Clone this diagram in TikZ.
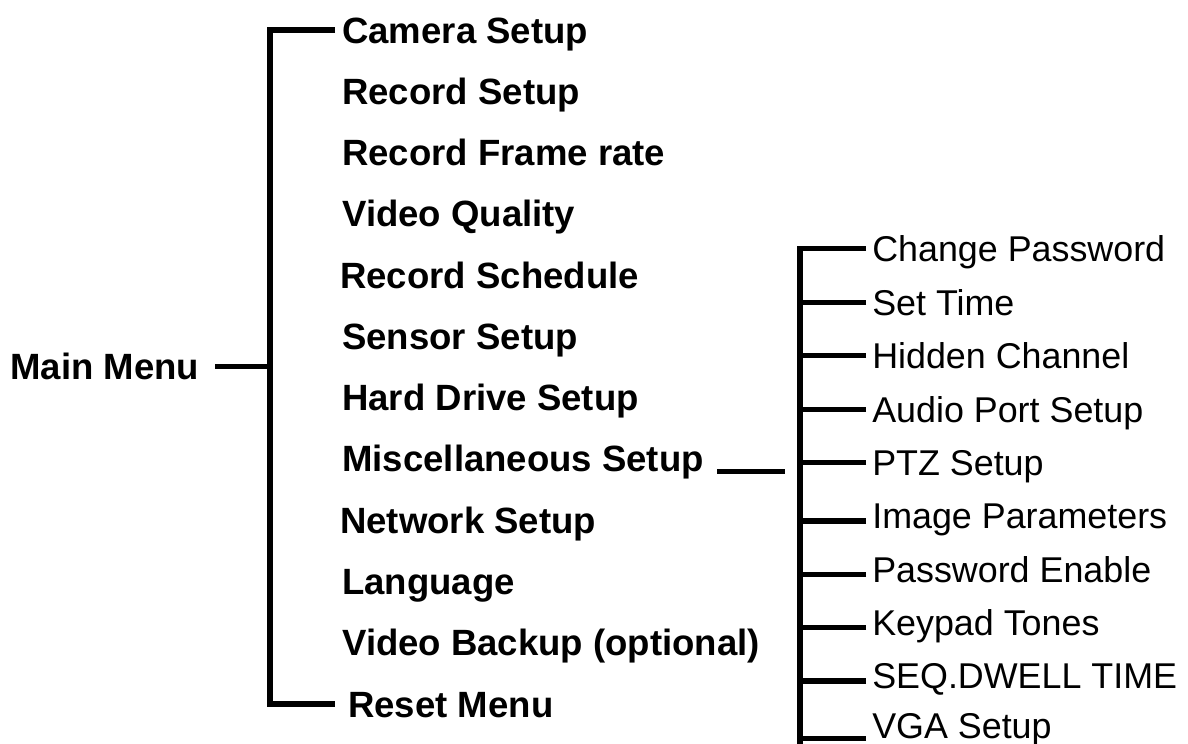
\documentclass[tikz,border=0pt]{standalone}
\usepackage{fontspec}
\setmainfont{Liberation Sans}

\begin{document}
\begin{tikzpicture}[
  mainitem/.style={anchor=west, inner sep=0pt, text height=18.7pt, text depth=0pt,
    font=\bfseries\fontsize{26}{30}\selectfont},
  subitem/.style={anchor=west, inner sep=0pt, text height=18.4pt, text depth=0pt,
    font=\fontsize{25.5}{30}\selectfont},
  bar/.style={line width=3.6pt}
]
  \useasboundingbox (0, 0) rectangle (29.7, 18.6);

  \node[mainitem] (main)   at ( 0.25,  9.44) {Main Menu};

  \node[mainitem] (cam)    at ( 8.55, 17.85) {Camera Setup};
  \node[mainitem] (recs)   at ( 8.55, 16.32) {Record Setup};
  \node[mainitem] (frame)  at ( 8.55, 14.79) {Record Frame rate};
  \node[mainitem] (vq)     at ( 8.55, 13.26) {Video Quality};
  \node[mainitem] (sched)  at ( 8.50, 11.72) {Record Schedule};
  \node[mainitem] (sensor) at ( 8.55, 10.19) {Sensor Setup};
  \node[mainitem] (hdd)    at ( 8.55,  8.66) {Hard Drive Setup};
  \node[mainitem] (misc)   at ( 8.55,  7.13) {Miscellaneous Setup};
  \node[mainitem] (net)    at ( 8.50,  5.60) {Network Setup};
  \node[mainitem] (lang)   at ( 8.55,  4.07) {Language};
  \node[mainitem] (backup) at ( 8.55,  2.53) {Video Backup (optional)};
  \node[mainitem] (reset)  at ( 8.70,  1.00) {Reset Menu};

  \node[subitem] (pw)     at (21.80, 12.38) {Change Password};
  \node[subitem] (time)   at (21.80, 11.04) {Set Time};
  \node[subitem] (hidden) at (21.80,  9.71) {Hidden Channel};
  \node[subitem] (audio)  at (21.80,  8.37) {Audio Port Setup};
  \node[subitem] (ptz)    at (21.80,  7.04) {PTZ Setup};
  \node[subitem] (img)    at (21.80,  5.70) {Image Parameters};
  \node[subitem] (pwon)   at (21.80,  4.37) {Password Enable};
  \node[subitem] (keys)   at (21.80,  3.03) {Keypad Tones};
  \node[subitem] (dwell)  at (21.80,  1.70) {SEQ.DWELL TIME};
  \node[subitem] (vga)    at (21.80,  0.46) {VGA Setup};

  \coordinate (mainbar) at ( 6.75,  9.44);
  \coordinate (subbar)  at (20.00, -0.20);

  \draw[bar] ([xshift=-1.75mm]cam.west) -| (mainbar) |- ([xshift=-3.25mm]reset.west);
  \draw[bar] ([xshift=4mm]main.east) -- (mainbar);

  \draw[bar, shorten >=3.75mm] ([xshift=3.25mm]misc.base east) -- (misc.base east -| subbar);

  \draw[bar] ([xshift=-1.5mm]pw.west) -| (subbar);
  \draw[bar] ([xshift=-1.5mm]time.west) -- ++(-1.65, 0);
  \draw[bar] ([xshift=-1.5mm]hidden.west) -- ++(-1.65, 0);
  \draw[bar] ([xshift=-1.5mm]audio.west) -- ++(-1.65, 0);
  \draw[bar] ([xshift=-1.5mm]ptz.west) -- ++(-1.65, 0);
  \draw[bar] ([xshift=-1.5mm, yshift=-1.25mm]img.west) -- ++(-1.65, 0);
  \draw[bar] ([xshift=-1.5mm, yshift=-1.25mm]pwon.west) -- ++(-1.65, 0);
  \draw[bar] ([xshift=-1.5mm, yshift=-1.25mm]keys.west) -- ++(-1.65, 0);
  \draw[bar] ([xshift=-1.5mm, yshift=-1.25mm]dwell.west) -- ++(-1.65, 0);
  \draw[bar] ([xshift=-1.5mm, yshift=-3.3mm]vga.west) -- ++(-1.65, 0);
\end{tikzpicture}
\end{document}
